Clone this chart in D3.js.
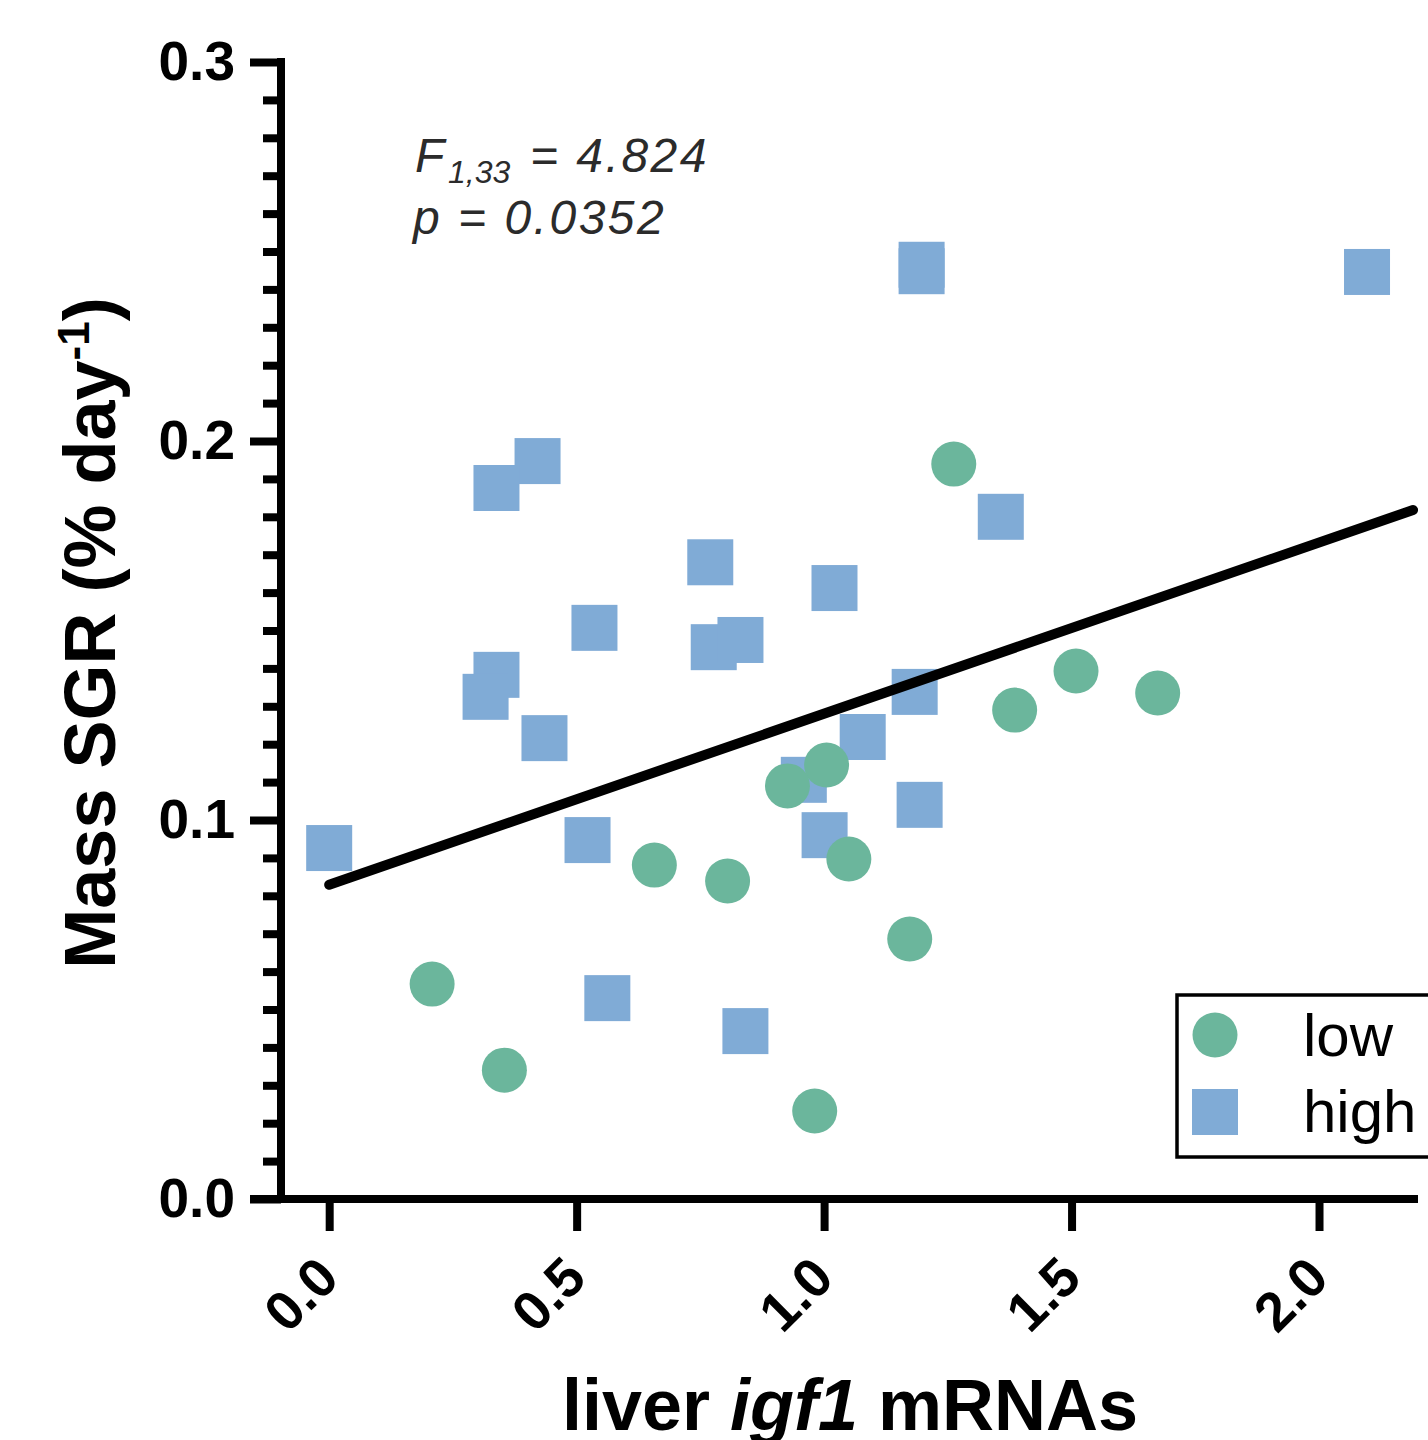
<!DOCTYPE html>
<html>
<head>
<meta charset="utf-8">
<script src="https://cdn.jsdelivr.net/npm/d3@7"></script>
<style>
  body { margin: 0; background: #fff; }
  svg { display: block; }
  text { font-family: "Liberation Sans", Arial, Helvetica, sans-serif; }
</style>
</head>
<body>
<div id="chart"></div>
<script>
// groupe "low" (cercles)
const lowX = [1.262, 1.509, 1.674, 1.385, 1.005, 0.926, 0.657, 0.805, 1.050, 1.173, 0.208, 0.354, 0.981];
const lowY = [0.1939, 0.1393, 0.1335, 0.1290, 0.1145, 0.1090, 0.0881, 0.0839, 0.0897, 0.0686, 0.0567, 0.0340, 0.0232];

// groupe "high" (carres)
const highX = [0.000, 1.197, 1.197, 2.097, 0.421, 0.338, 0.770, 1.357, 1.021, 0.536, 0.777, 0.831,
  0.338, 0.316, 0.435, 1.183, 1.078, 0.959, 1.001, 1.193, 0.522, 0.562, 0.841];
const highY = [0.0926, 0.2465, 0.2448, 0.2446, 0.1947, 0.1876, 0.1680, 0.1800, 0.1612, 0.1507, 0.1456, 0.1475,
  0.1383, 0.1325, 0.1216, 0.1338, 0.1219, 0.1106, 0.0960, 0.1040, 0.0947, 0.0530, 0.0443];

// droite de regression
const fitX = [0, 2.19];
const fitY = [0.0829, 0.1818];

const xTicks = [0, 0.5, 1, 1.5, 2];
const yTicks = [0, 0.1, 0.2, 0.3];
const yMinor = d3.range(0, 31).map(i => i / 100).filter(v => Math.round(v * 100) % 10 !== 0);

const legendLabels = ["low", "high"];
const colors = { low: "#6bb69c", high: "#80abd6" };

//svg
const svg = d3.select("#chart")
  .append("svg")
  .attr("width", 1428)
  .attr("height", 1440);

//echelles
const x = d3.scaleLinear().domain([-0.16, 2.2]).range([250, 1418]);
const y = d3.scaleLinear().domain([0, 0.3]).range([1199, 62]);

//axe y
const yAxis = svg.append("g")
  .attr("transform", "translate(281,0)")
  .call(d3.axisLeft(y).tickValues(yTicks).tickSize(31).tickPadding(15).tickFormat(d3.format(".1f")));
yAxis.select(".domain").remove();
yAxis.selectAll("line").attr("stroke", "#000").attr("stroke-width", 8);
yAxis.selectAll("text")
  .attr("fill", "#000")
  .style("font-size", "55px")
  .style("font-weight", "bold");

const yAxisMinor = svg.append("g")
  .attr("transform", "translate(281,0)")
  .call(d3.axisLeft(y).tickValues(yMinor).tickSize(18).tickFormat(""));
yAxisMinor.select(".domain").remove();
yAxisMinor.selectAll("line").attr("stroke", "#000").attr("stroke-width", 8);

svg.append("line")
  .attr("x1", 281).attr("x2", 281)
  .attr("y1", y(0.3) - 4).attr("y2", y(0) + 4)
  .attr("stroke", "#000").attr("stroke-width", 8);

//axe x
const xAxis = svg.append("g")
  .attr("transform", "translate(0,1199)")
  .call(d3.axisBottom(x).tickValues(xTicks).tickSize(32).tickFormat(d3.format(".1f")));
xAxis.select(".domain").remove();
xAxis.selectAll("line").attr("stroke", "#000").attr("stroke-width", 8);
xAxis.selectAll("text")
  .attr("fill", "#000")
  .attr("x", 0).attr("y", 0)
  .attr("dy", "0.35em")
  .attr("text-anchor", "end")
  .attr("transform", "translate(-2,68) rotate(-45)")
  .style("font-size", "55px")
  .style("font-weight", "bold");

svg.append("line")
  .attr("x1", 250).attr("x2", 1418)
  .attr("y1", 1199).attr("y2", 1199)
  .attr("stroke", "#000").attr("stroke-width", 8);

//points high
const sq = 46;
svg.append("g")
  .selectAll("rect")
  .data(highX.map((d, i) => [d, highY[i]]))
  .enter()
  .append("rect")
  .attr("x", d => x(d[0]) - sq / 2)
  .attr("y", d => y(d[1]) - sq / 2)
  .attr("width", sq)
  .attr("height", sq)
  .attr("fill", colors.high);

//points low
svg.append("g")
  .selectAll("circle")
  .data(lowX.map((d, i) => [d, lowY[i]]))
  .enter()
  .append("circle")
  .attr("cx", d => x(d[0]))
  .attr("cy", d => y(d[1]))
  .attr("r", 22.5)
  .attr("fill", colors.low);

//regression
svg.append("path")
  .datum(fitX.map((d, i) => [d, fitY[i]]))
  .attr("d", d3.line().x(d => x(d[0])).y(d => y(d[1])))
  .attr("fill", "none")
  .attr("stroke", "#000")
  .attr("stroke-width", 10)
  .attr("stroke-linecap", "round");

//titres des axes
const xTitle = svg.append("text")
  .attr("x", 850).attr("y", 1430)
  .attr("text-anchor", "middle")
  .style("font-size", "72px")
  .style("font-weight", "bold");
xTitle.append("tspan").text("liver ");
xTitle.append("tspan").style("font-style", "italic").text("igf1");
xTitle.append("tspan").text(" mRNAs");

const yTitle = svg.append("text")
  .attr("transform", "translate(115,633) rotate(-90)")
  .attr("text-anchor", "middle")
  .style("font-size", "72px")
  .style("font-weight", "bold");
yTitle.append("tspan").text("Mass SGR (% day");
yTitle.append("tspan").attr("dy", -26).style("font-size", "44px").text("-1");
yTitle.append("tspan").attr("dy", 26).text(")");

//statistiques
const stats = svg.append("g")
  .style("font-style", "italic")
  .style("font-size", "48px")
  .attr("fill", "#2b2b2b");
const fLine = stats.append("text").attr("x", 415).attr("y", 172);
fLine.append("tspan").text("F");
fLine.append("tspan").attr("x", 448).attr("dy", 11).style("font-size", "32px").text("1,33");
fLine.append("tspan").attr("x", 530).attr("dy", -11).style("letter-spacing", "2.5px").text("= 4.824");
stats.append("text")
  .attr("x", 413).attr("y", 234)
  .style("letter-spacing", "2.5px")
  .text("p = 0.0352");

//legende
const legend = svg.append("g");
legend.append("rect")
  .attr("x", 1177).attr("y", 995)
  .attr("width", 300).attr("height", 162)
  .attr("fill", "#fff")
  .attr("stroke", "#000")
  .attr("stroke-width", 3.5);
legend.append("circle")
  .attr("cx", 1215).attr("cy", 1035).attr("r", 22.5)
  .attr("fill", colors.low);
legend.append("rect")
  .attr("x", 1192).attr("y", 1089).attr("width", sq).attr("height", sq)
  .attr("fill", colors.high);
legend.selectAll("text.lab")
  .data(legendLabels)
  .enter()
  .append("text")
  .attr("class", "lab")
  .attr("x", 1303)
  .attr("y", (d, i) => 1056 + i * 76)
  .style("font-size", "60px")
  .text(d => d);
</script>
</body>
</html>
